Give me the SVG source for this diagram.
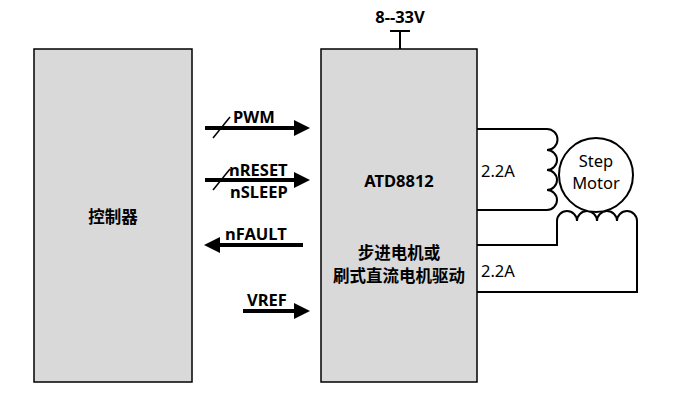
<svg xmlns="http://www.w3.org/2000/svg" width="674" height="400" viewBox="0 0 674 400">
<style>
.box{fill:#d9d9d9;stroke:#000;stroke-width:1.5}
.b{font-family:"Noto Sans","Noto Sans CJK SC",sans-serif;font-weight:bold;font-size:16.5px;fill:#000}
.r{font-family:"Noto Sans",sans-serif;font-size:16.5px;fill:#000}
.w{fill:none;stroke:#000;stroke-width:2}
.a{stroke:#000;stroke-width:4;fill:none}
.s{stroke:#000;stroke-width:1.5}
</style>
<defs><marker id="ah" markerWidth="4" markerHeight="4" refX="1" refY="2" orient="auto"><path d="M0,0L4,2L0,4Z" fill="#000"/></marker></defs>
<rect width="674" height="400" fill="#fff"/>
<g id="controller"><rect class="box" x="34" y="49" width="158" height="333"/><text class="b" x="113" y="223" text-anchor="middle">控制器</text></g>
<g id="driver"><rect class="box" x="321" y="49" width="156" height="333"/>
<text class="b" x="399" y="187" text-anchor="middle" font-size="20">ATD8812</text>
<text class="b" x="399" y="259" text-anchor="middle">步进电机或</text>
<text class="b" x="399" y="282" text-anchor="middle">刷式直流电机驱动</text></g>
<g id="power"><path class="w" d="M400,49V31M390,31H410" stroke-width="3"/><text class="b" x="400" y="23" text-anchor="middle">8--33V</text></g>
<g id="connectors">
<path class="a" d="M205,128H298" marker-end="url(#ah)"/><path class="s" d="M213,138L230,117"/>
<text class="b" x="233" y="123">PWM</text>
<path class="a" d="M205,180H298" marker-end="url(#ah)"/><path class="s" d="M213,190L230,169"/>
<text class="b" x="229" y="176">nRESET</text><text class="b" x="230" y="198">nSLEEP</text>
<path class="a" d="M303,245H216" marker-end="url(#ah)"/>
<text class="b" x="225" y="240">nFAULT</text>
<path class="a" d="M243,311H298" marker-end="url(#ah)"/>
<text class="b" x="247" y="306">VREF</text>
<path class="w" d="M477,129H547A10,10 0 0 1 547,150A10,10 0 0 1 547,170A10,10 0 0 1 547,190A10,10 0 0 1 547,210H477"/>
<path class="w" d="M477,245H557V221A10,10 0 0 1 577,221A10,10 0 0 1 597,221A10,10 0 0 1 617,221A10,10 0 0 1 637,221V292H477"/>
<text class="r" x="481" y="177">2.2A</text><text class="r" x="481" y="277">2.2A</text>
</g>
<g id="motor"><circle cx="596" cy="175" r="37" fill="#fff" stroke="#000" stroke-width="2"/>
<text class="r" x="596" y="167" text-anchor="middle">Step</text><text class="r" x="596" y="189" text-anchor="middle">Motor</text></g>
</svg>
